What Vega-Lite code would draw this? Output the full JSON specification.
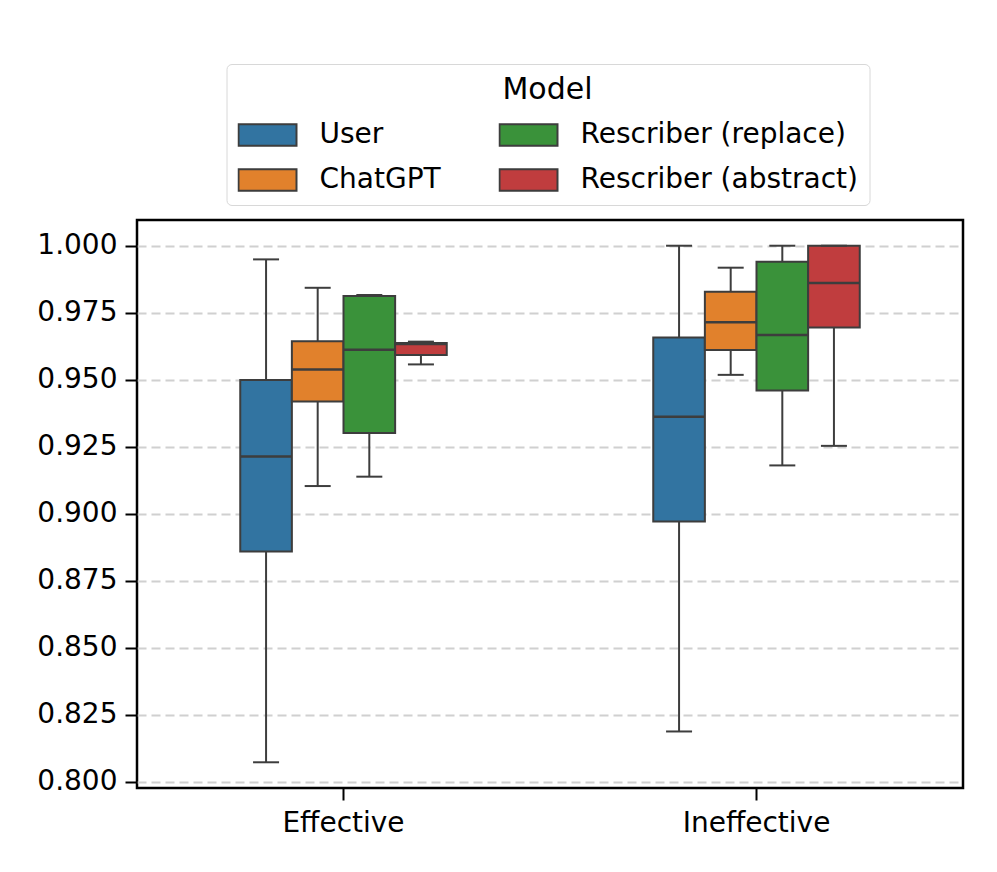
{
  "$schema": "https://vega.github.io/schema/vega-lite/v6.json",
  "width": 826,
  "height": 568,
  "autosize": {"type": "none"},
  "padding": {"left": 137, "top": 220, "right": 34, "bottom": 84},
  "background": "white",
  "config": {
    "font": "DejaVu Sans",
    "view": {"stroke": "black", "strokeWidth": 2.5},
    "axis": {"labelFont": "DejaVu Sans", "labelColor": "black", "labelFontSize": 28, "tickColor": "black", "tickWidth": 2, "tickSize": 12, "domain": false, "title": null}
  },
  "data": {
    "values": [
      {"Condition": "Effective", "Model": "User", "lower": 0.8072, "q1": 0.8859, "median": 0.9213, "q3": 0.9499, "upper": 0.9949},
      {"Condition": "Effective", "Model": "ChatGPT", "lower": 0.9103, "q1": 0.9419, "median": 0.9538, "q3": 0.9643, "upper": 0.9843},
      {"Condition": "Effective", "Model": "Rescriber (replace)", "lower": 0.9138, "q1": 0.9301, "median": 0.9612, "q3": 0.9812, "upper": 0.9816},
      {"Condition": "Effective", "Model": "Rescriber (abstract)", "lower": 0.9557, "q1": 0.9592, "median": 0.9633, "q3": 0.9637, "upper": 0.9642},
      {"Condition": "Ineffective", "Model": "User", "lower": 0.8187, "q1": 0.8971, "median": 0.9362, "q3": 0.9657, "upper": 1.0},
      {"Condition": "Ineffective", "Model": "ChatGPT", "lower": 0.9518, "q1": 0.9611, "median": 0.9714, "q3": 0.9828, "upper": 0.9918},
      {"Condition": "Ineffective", "Model": "Rescriber (replace)", "lower": 0.918, "q1": 0.946, "median": 0.9667, "q3": 0.994, "upper": 1.0},
      {"Condition": "Ineffective", "Model": "Rescriber (abstract)", "lower": 0.9253, "q1": 0.9695, "median": 0.9861, "q3": 1.0, "upper": 1.0}
    ]
  },
  "encoding": {
    "x": {
      "field": "Condition", "type": "nominal",
      "scale": {"paddingInner": 0.5, "paddingOuter": 0.25},
      "axis": {"labelAngle": 0, "labelPadding": 9, "grid": false}
    },
    "xOffset": {
      "field": "Model", "type": "nominal",
      "scale": {"domain": ["User", "ChatGPT", "Rescriber (replace)", "Rescriber (abstract)"], "paddingInner": 0, "paddingOuter": 0}
    }
  },
  "layer": [
    {
      "mark": {"type": "rule", "color": "#3d3d3d", "strokeWidth": 2},
      "encoding": {
        "y": {
          "field": "lower", "type": "quantitative",
          "scale": {"domain": [0.7976, 1.0096], "nice": false, "zero": false},
          "axis": {
            "values": [0.8, 0.825, 0.85, 0.875, 0.9, 0.925, 0.95, 0.975, 1.0],
            "format": ".3f", "labelPadding": 8,
            "grid": true, "gridColor": "#d0d0d0", "gridWidth": 2, "gridDash": [9, 5]
          }
        },
        "y2": {"field": "upper"}
      }
    },
    {
      "mark": {"type": "bar", "stroke": "#3d3d3d", "strokeWidth": 2},
      "encoding": {
        "y": {"field": "q1", "type": "quantitative"},
        "y2": {"field": "q3"},
        "color": {
          "field": "Model", "type": "nominal",
          "scale": {
            "domain": ["User", "ChatGPT", "Rescriber (replace)", "Rescriber (abstract)"],
            "range": ["#3274a1", "#e1812c", "#3a923a", "#c03d3e"]
          },
          "legend": {
            "orient": "none", "legendX": 89.5, "legendY": -156,
            "columns": 2, "columnPadding": 57, "rowPadding": 17,
            "clipHeight": 26,
            "symbolType": "M-1,-0.37H1V0.37H-1Z", "symbolSize": 3364,
            "symbolStrokeColor": "#3d3d3d", "symbolStrokeWidth": 2, "symbolOpacity": 1,
            "labelFontSize": 28, "labelColor": "black", "labelOffset": 22, "labelLimit": 400,
            "title": "Model", "titleFontSize": 30, "titleFontWeight": "normal", "titleColor": "black",
            "titleAnchor": "middle", "titlePadding": 17,
            "padding": 11, "strokeColor": "#d8d8d8", "fillColor": "white", "cornerRadius": 5
          }
        }
      }
    },
    {
      "mark": {"type": "tick", "color": "#3d3d3d", "thickness": 2.5, "size": 51.6, "opacity": 1},
      "encoding": {"y": {"field": "median", "type": "quantitative"}}
    },
    {
      "mark": {"type": "tick", "color": "#3d3d3d", "thickness": 2, "size": 26, "opacity": 1},
      "encoding": {"y": {"field": "lower", "type": "quantitative"}}
    },
    {
      "mark": {"type": "tick", "color": "#3d3d3d", "thickness": 2, "size": 26, "opacity": 1},
      "encoding": {"y": {"field": "upper", "type": "quantitative"}}
    }
  ]
}
